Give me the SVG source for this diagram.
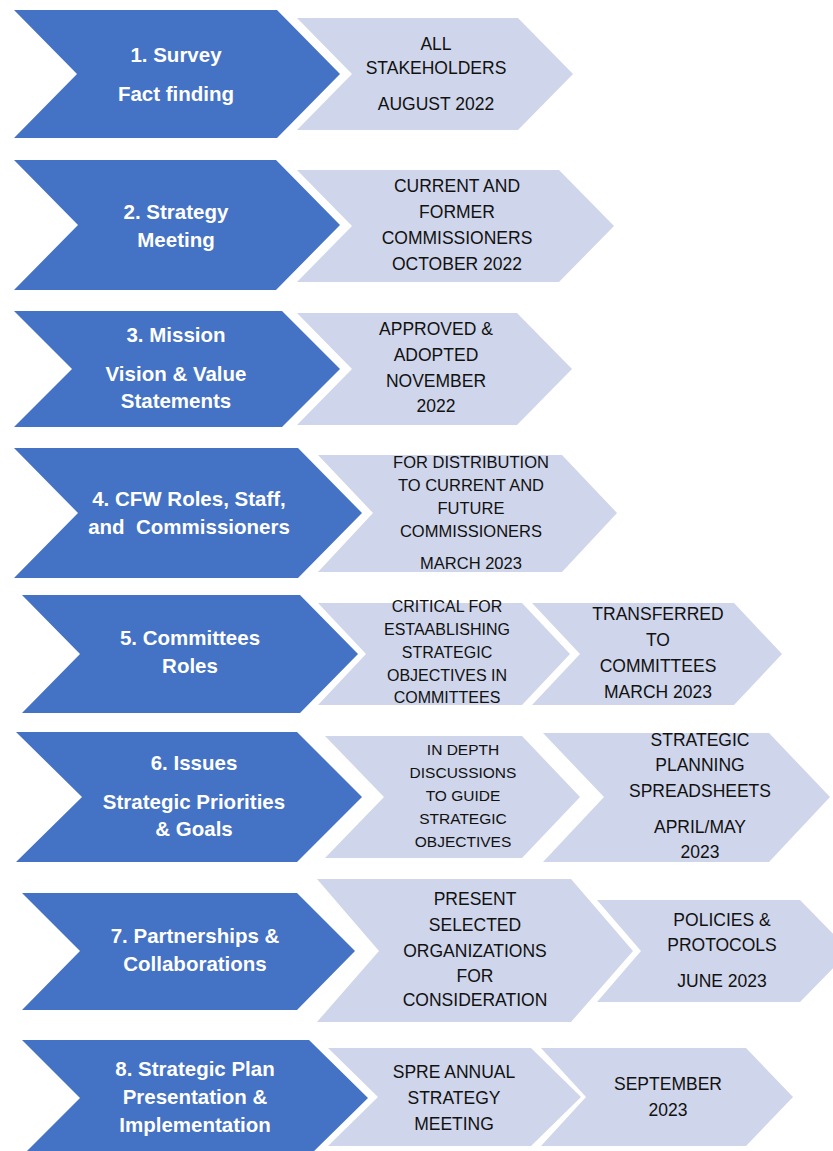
<svg xmlns="http://www.w3.org/2000/svg" width="833" height="1151" viewBox="0 0 833 1151">
<style>
.b{fill:#4472C4}
.l{fill:#CFD5EA}
.bt{font-family:"Liberation Sans",Arial,sans-serif;font-weight:bold;font-size:20.5px;fill:#FFFFFF;text-anchor:middle}
.lt{font-family:"Liberation Sans",Arial,sans-serif;font-size:17.5px;fill:#111111;text-anchor:middle}
.s16{font-size:16.5px}
.s15{font-size:15.5px}
.s5{font-size:16px}
</style>
<rect width="833" height="1151" fill="#FFFFFF"/>
<g id="connectors"/>
<g id="row1">
<polygon class="b" points="14,10 277,10 340,74 277,138 14,138 77,74"/>
<text class="bt" x="176" y="62">1. Survey</text>
<text class="bt" x="176" y="101">Fact finding</text>
</g>
<g id="row1-a">
<polygon class="l" points="297,18 518,18 573,74 518,130 297,130 352,74"/>
<text class="lt" x="436" y="50">ALL</text>
<text class="lt" x="436" y="74">STAKEHOLDERS</text>
<text class="lt" x="436" y="110">AUGUST 2022</text>
</g>
<g id="row2">
<polygon class="b" points="14,160 276,160 340,225 276,290 14,290 78,225"/>
<text class="bt" x="176" y="219">2. Strategy</text>
<text class="bt" x="176" y="247">Meeting</text>
</g>
<g id="row2-a">
<polygon class="l" points="297,170 559,170 614,226 559,282 297,282 352,226"/>
<text class="lt" x="457" y="192">CURRENT AND</text>
<text class="lt" x="457" y="218">FORMER</text>
<text class="lt" x="457" y="244">COMMISSIONERS</text>
<text class="lt" x="457" y="270">OCTOBER 2022</text>
</g>
<g id="row3">
<polygon class="b" points="14,311 282,311 340,369 282,427 14,427 72,369"/>
<text class="bt" x="176" y="342">3. Mission</text>
<text class="bt" x="176" y="381">Vision &amp; Value</text>
<text class="bt" x="176" y="408">Statements</text>
</g>
<g id="row3-a">
<polygon class="l" points="297,313 517,313 572,369 517,425 297,425 352,369"/>
<text class="lt" x="436" y="335">APPROVED &amp;</text>
<text class="lt" x="436" y="361">ADOPTED</text>
<text class="lt" x="436" y="387">NOVEMBER</text>
<text class="lt" x="436" y="412">2022</text>
</g>
<g id="row4">
<polygon class="b" points="14,448 298,448 362,513 298,578 14,578 78,513"/>
<text class="bt" x="189" y="506">4. CFW Roles, Staff,</text>
<text class="bt" x="189" y="534" xml:space="preserve">and  Commissioners</text>
</g>
<g id="row4-a">
<polygon class="l" points="318,455 562,455 617,513 562,572 318,572 373,513"/>
<text class="lt s16" x="471" y="468">FOR DISTRIBUTION</text>
<text class="lt s16" x="471" y="491">TO CURRENT AND</text>
<text class="lt s16" x="471" y="514">FUTURE</text>
<text class="lt s16" x="471" y="537">COMMISSIONERS</text>
<text class="lt s16" x="471" y="569">MARCH 2023</text>
</g>
<g id="row5">
<polygon class="b" points="22,595 300,595 358,654 300,713 22,713 80,654"/>
<text class="bt" x="190" y="645">5. Committees</text>
<text class="bt" x="190" y="673">Roles</text>
</g>
<g id="row5-a">
<polygon class="l" points="318,603 522,603 570,654 522,705 318,705 366,654"/>
<text class="lt s5" x="447" y="612">CRITICAL FOR</text>
<text class="lt s5" x="447" y="635">ESTAABLISHING</text>
<text class="lt s5" x="447" y="658">STRATEGIC</text>
<text class="lt s5" x="447" y="681">OBJECTIVES IN</text>
<text class="lt s5" x="447" y="703">COMMITTEES</text>
</g>
<g id="row5-b">
<polygon class="l" points="532,603 734,603 782,654 734,705 532,705 580,654"/>
<text class="lt" x="658" y="620">TRANSFERRED</text>
<text class="lt" x="658" y="646">TO</text>
<text class="lt" x="658" y="672">COMMITTEES</text>
<text class="lt" x="658" y="698">MARCH 2023</text>
</g>
<g id="row6">
<polygon class="b" points="16,732 297,732 362,797 297,862 16,862 82,797"/>
<text class="bt" x="194" y="770">6. Issues</text>
<text class="bt" x="194" y="809">Strategic Priorities</text>
<text class="bt" x="194" y="836">&amp; Goals</text>
</g>
<g id="row6-a">
<polygon class="l" points="325,736 522,736 580,797 522,858 325,858 384,797"/>
<text class="lt s15" x="463" y="755">IN DEPTH</text>
<text class="lt s15" x="463" y="778">DISCUSSIONS</text>
<text class="lt s15" x="463" y="801">TO GUIDE</text>
<text class="lt s15" x="463" y="824">STRATEGIC</text>
<text class="lt s15" x="463" y="847">OBJECTIVES</text>
</g>
<g id="row6-b">
<polygon class="l" points="543,733 769,733 830,797 769,862 543,862 604,797"/>
<text class="lt" x="700" y="746">STRATEGIC</text>
<text class="lt" x="700" y="771">PLANNING</text>
<text class="lt" x="700" y="797">SPREADSHEETS</text>
<text class="lt" x="700" y="833">APRIL/MAY</text>
<text class="lt" x="700" y="858">2023</text>
</g>
<g id="row7">
<polygon class="b" points="22,893 297,893 355,951 297,1010 22,1010 80,951"/>
<text class="bt" x="195" y="943">7. Partnerships &amp;</text>
<text class="bt" x="195" y="971">Collaborations</text>
</g>
<g id="row7-a">
<polygon class="l" points="317,879 571,879 633,951 571,1022 317,1022 379,951"/>
<text class="lt" x="475" y="905">PRESENT</text>
<text class="lt" x="475" y="931">SELECTED</text>
<text class="lt" x="475" y="957">ORGANIZATIONS</text>
<text class="lt" x="475" y="982">FOR</text>
<text class="lt" x="475" y="1006">CONSIDERATION</text>
</g>
<g id="row7-b">
<polygon class="l" points="597,900 800,900 850,951 800,1002 597,1002 641,951"/>
<text class="lt" x="722" y="926">POLICIES &amp;</text>
<text class="lt" x="722" y="951">PROTOCOLS</text>
<text class="lt" x="722" y="987">JUNE 2023</text>
</g>
<g id="row8">
<polygon class="b" points="22,1040 309,1040 368,1098 309,1156 22,1156 80,1098"/>
<text class="bt" x="195" y="1076">8. Strategic Plan</text>
<text class="bt" x="195" y="1104">Presentation &amp;</text>
<text class="bt" x="195" y="1132">Implementation</text>
</g>
<g id="row8-a">
<polygon class="l" points="328,1048 531,1048 581,1097 531,1146 328,1146 378,1097"/>
<text class="lt" x="454" y="1078">SPRE ANNUAL</text>
<text class="lt" x="454" y="1104">STRATEGY</text>
<text class="lt" x="454" y="1130">MEETING</text>
</g>
<g id="row8-b">
<polygon class="l" points="541,1048 746,1048 793,1097 746,1146 541,1146 586,1097"/>
<text class="lt" x="668" y="1090">SEPTEMBER</text>
<text class="lt" x="668" y="1116">2023</text>
</g>
</svg>
